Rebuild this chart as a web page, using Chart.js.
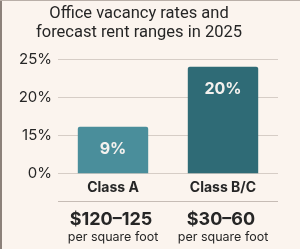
<!DOCTYPE html>
<html>
<head>
<meta charset="utf-8">
<script src="https://cdn.jsdelivr.net/npm/chart.js@4"></script>
<style>
  html, body { margin: 0; padding: 0; background: #fbf4ee; }
  #wrap { width: 300px; height: 249px; position: relative; }
</style>
</head>
<body>
<div id="wrap"><canvas id="vacancyChart" width="300" height="249"></canvas></div>
<script>
// Data
const classes = ['Class A', 'Class B/C'];
const vacancyRates = [9, 20];          // printed on the bars
const barHeights = [16.1, 24];         // where the bar tops sit on the (broken) axis
const rentRanges = ['$120\u2013125', '$30\u201360'];
const rentUnit = 'per square foot';
const axisTicks = [10, 15, 20, 25];    // bottom tick is the axis break, shown as 0%

const FONT = 'Inter, "Open Sans", sans-serif';
const INK = '#262626';

// background + frame edges
const framePlugin = {
    id: 'frame',
    beforeDraw(chart) {
        const ctx = chart.ctx;
        ctx.save();
        ctx.fillStyle = '#fbf4ee';
        ctx.fillRect(0, 0, chart.width, chart.height);
        ctx.fillStyle = '#8c817a';
        ctx.fillRect(0, 0, 2, chart.height);
        ctx.fillStyle = '#b9afa8';
        ctx.fillRect(0, 0, chart.width, 1);
        ctx.restore();
    }
};

// percent labels inside bars + rent rows under the axis
const labelsPlugin = {
    id: 'labels',
    afterDatasetsDraw(chart) {
        const ctx = chart.ctx;
        const meta = chart.getDatasetMeta(0);
        ctx.save();
        ctx.fillStyle = '#f4f1ee';
        ctx.font = 'bold 16px ' + FONT;
        ctx.textAlign = 'center';
        ctx.textBaseline = 'middle';
        meta.data.forEach((bar, i) => {
            ctx.fillText(vacancyRates[i] + '%', bar.x, bar.y + 22);
        });
        ctx.restore();
    },
    afterDraw(chart) {
        const ctx = chart.ctx;
        const area = chart.chartArea;
        const x = chart.scales.x;
        ctx.save();
        // separator between class names and rents
        ctx.fillStyle = '#c6bcb5';
        ctx.fillRect(area.left, 201, area.right - area.left, 1);
        ctx.fillStyle = INK;
        ctx.textAlign = 'center';
        ctx.textBaseline = 'middle';
        rentRanges.forEach((r, i) => {
            const cx = x.getPixelForValue(i) - 2;
            ctx.font = 'bold 18px ' + FONT;
            ctx.fillText(r, cx, 220);
            ctx.font = '12.5px ' + FONT;
            ctx.fillText(rentUnit, cx + 2, 237);
        });
        ctx.restore();
    }
};

const ctx = document.getElementById('vacancyChart').getContext('2d');
const vacancyChart = new Chart(ctx, {
    type: 'bar',
    data: {
        labels: classes,
        datasets: [{
            data: barHeights,
            backgroundColor: ['#4a8e9b', '#2f6b76'],
            borderRadius: { topLeft: 2, topRight: 2 },
            borderSkipped: 'bottom',
            barPercentage: 0.64,
            categoryPercentage: 1
        }]
    },
    options: {
        responsive: false,
        animation: false,
        layout: { padding: { left: 0, right: 22, top: 4, bottom: 47 } },
        plugins: {
            legend: { display: false },
            tooltip: { enabled: false },
            title: {
                display: true,
                text: ['Office vacancy rates and', 'forecast rent ranges in 2025'],
                color: INK,
                font: { family: 'Roboto, ' + FONT, size: 16.5, weight: 'normal', lineHeight: 1.16 },
                padding: { top: 0, bottom: 17 }
            }
        },
        scales: {
            x: {
                grid: { display: false, drawTicks: false },
                border: { display: false },
                ticks: {
                    color: INK,
                    padding: 6,
                    font: { family: FONT, size: 14, weight: 'bold' }
                }
            },
            y: {
                min: 10,
                max: 25,
                afterBuildTicks(scale) {
                    scale.ticks = axisTicks.map(v => ({ value: v }));
                },
                afterFit(scale) { scale.width = 58; },
                grid: { color: '#d6cdc6', drawTicks: false },
                border: { display: false },
                ticks: {
                    color: INK,
                    padding: 6,
                    font: { family: FONT, size: 15 },
                    callback: v => (v === 10 ? 0 : v) + '%'
                }
            }
        }
    },
    plugins: [framePlugin, labelsPlugin]
});
</script>
</body>
</html>
